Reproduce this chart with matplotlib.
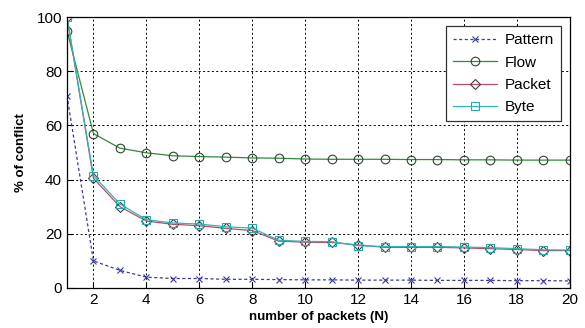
import matplotlib
matplotlib.use("Agg")
import matplotlib.pyplot as plt

plt.rcParams['font.family'] = ['Liberation Sans', 'DejaVu Sans']

n = list(range(1, 21))
pattern = [71, 10, 6.5, 4, 3.5, 3.5, 3.2, 3.2, 3.1, 3.0, 3.0, 2.9, 2.9, 2.9, 2.8, 2.8, 2.8, 2.7, 2.7, 2.6]
flow = [95, 57, 51.6, 49.9, 48.8, 48.5, 48.3, 48.0, 47.9, 47.6, 47.5, 47.5, 47.5, 47.4, 47.4, 47.3, 47.3, 47.2, 47.2, 47.2]
packet = [100, 40.5, 30, 24.7, 23.5, 23, 22, 21.2, 17.3, 16.9, 16.8, 15.9, 15.0, 15.0, 15.0, 14.8, 14.5, 14.2, 13.8, 13.8]
byte = [100, 41.5, 31, 25.2, 24, 23.6, 22.6, 22.1, 17.6, 17.2, 17.1, 15.6, 15.3, 15.3, 15.3, 15.1, 14.9, 14.5, 14.1, 14.0]

xticks = list(range(2, 21, 2))
yticks = list(range(0, 101, 20))

fig = plt.figure(figsize=(5.85, 3.28), dpi=100)
ax = fig.add_axes([0.1145, 0.122, 0.8595, 0.826])

ax.plot(n, pattern, linestyle=(0, (2.5, 2)), color='#3a3aa0', lw=0.9, marker='x',
        markersize=4, markeredgewidth=0.8, label='Pattern')
ax.plot(n, flow, '-', color='#2e8b3a', lw=0.9, marker='o', markersize=6.2,
        markerfacecolor='none', markeredgecolor='#2a4a2a', markeredgewidth=0.8, label='Flow')
ax.plot(n, packet, '-', color='#c04868', lw=0.9, marker='D', markersize=4.8,
        markerfacecolor='none', markeredgecolor='#404040', markeredgewidth=0.8, label='Packet')
ax.plot(n, byte, '-', color='#2ab8b8', lw=0.9, marker='s', markersize=6.2,
        markerfacecolor='none', markeredgecolor='#2aa8a8', markeredgewidth=0.8, label='Byte')

ax.set_xlim(1, 20)
ax.set_ylim(0, 100)
ax.set_xticks(xticks)
ax.set_yticks(yticks)
ax.tick_params(direction='in', labelsize=11, length=4, width=0.8)
ax.grid(True, color='black', linestyle=(0, (2, 2.5)), linewidth=0.7)
for s in ax.spines.values():
    s.set_linewidth(0.9)

ax.set_xlabel('number of packets (N)', fontsize=9.5, fontweight='bold', labelpad=3)
ax.set_ylabel('% of conflict', fontsize=9.5, fontweight='bold', labelpad=7)

leg = ax.legend(loc='upper right', fontsize=11, frameon=True, fancybox=False,
                edgecolor='#333333', framealpha=1, borderaxespad=0.6,
                handlelength=2.9, labelspacing=0.55, borderpad=0.45, handletextpad=0.5)
leg.get_frame().set_linewidth(0.9)

fig.savefig('out.png', dpi=100)
